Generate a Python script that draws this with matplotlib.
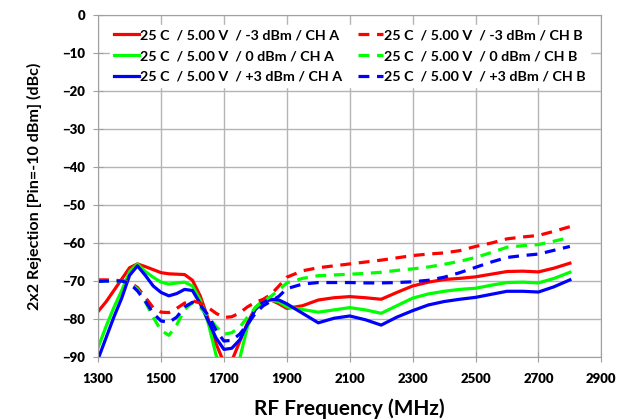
import matplotlib
matplotlib.use('Agg')
import matplotlib.pyplot as plt

plt.rcParams['font.family'] = ['Lato', 'DejaVu Sans']
plt.rcParams['font.weight'] = 'bold'

# frequency points (MHz)
freq = [1300, 1325, 1350, 1375, 1400, 1425, 1450, 1475, 1500, 1525, 1550, 1575,
        1600, 1625, 1650, 1675, 1700, 1725, 1750, 1775, 1800, 1825, 1850, 1875,
        1900, 1950, 2000, 2050, 2100, 2150, 2200, 2250, 2300, 2350, 2400, 2450,
        2500, 2550, 2600, 2650, 2700, 2750, 2800]

# CH A
m3_a = [-78.0, -75.5, -72.5, -69.5, -66.5, -65.5, -66.2, -67.0, -67.8, -68.1, -68.2, -68.3,
        -69.8, -74.0, -80.0, -86.5, -91.5, -91.0, -86.0, -81.0, -77.0, -75.3, -75.0, -76.0,
        -77.2, -76.5, -75.0, -74.4, -74.1, -74.4, -74.8, -73.0, -71.3, -70.3, -69.6, -69.3,
        -68.9, -68.2, -67.5, -67.4, -67.6, -66.6, -65.3]
p0_a = [-87.5, -82.0, -77.0, -72.5, -67.5, -65.5, -67.5, -69.0, -70.3, -70.8, -70.5, -70.3,
        -71.3, -75.0, -81.0, -89.5, -94.0, -94.0, -90.5, -82.0, -77.0, -75.0, -75.0, -75.5,
        -76.8, -77.5, -78.2, -77.6, -77.0, -77.6, -78.5, -76.5, -74.5, -73.4, -72.7, -72.2,
        -71.9, -71.1, -70.4, -70.3, -70.5, -69.3, -67.7]
p3_a = [-90.5, -85.0, -79.5, -74.5, -68.5, -66.0, -68.5, -71.3, -73.0, -73.9, -73.3, -72.2,
        -72.5, -76.0, -80.5, -85.0, -88.0, -87.7, -85.5, -81.4, -77.5, -75.5, -74.8, -75.0,
        -76.0, -78.5, -81.0, -79.8, -79.2, -80.2, -81.6, -79.5, -77.8, -76.3, -75.4, -74.8,
        -74.3, -73.5, -72.7, -72.7, -72.9, -71.5, -69.7]

# CH B
m3_b = [-69.7, -69.7, -69.8, -69.9, -70.3, -71.7, -74.3, -77.0, -78.2, -78.3, -77.2, -75.8,
        -75.2, -75.8, -77.0, -78.5, -79.6, -79.4, -78.4, -76.8, -75.6, -74.8, -73.5, -71.3,
        -69.0, -67.3, -66.5, -66.0, -65.5, -65.0, -64.5, -63.9, -63.3, -62.9, -62.6, -62.0,
        -60.9, -60.0, -58.9, -58.4, -58.0, -56.9, -55.7]
p0_b = [-70.1, -70.0, -70.0, -70.0, -70.5, -72.1, -75.5, -79.5, -83.0, -84.3, -81.5, -77.5,
        -75.7, -77.0, -79.3, -82.0, -84.0, -83.6, -82.2, -79.5, -77.0, -75.3, -74.0, -72.3,
        -70.5, -69.3, -68.6, -68.4, -68.2, -68.0, -67.7, -67.2, -66.8, -66.3, -65.6, -64.8,
        -63.8, -62.5, -61.1, -60.7, -60.4, -59.5, -58.5]
p3_b = [-70.1, -70.0, -70.0, -70.0, -70.6, -72.6, -75.3, -78.5, -80.5, -80.9, -79.5, -76.8,
        -75.6, -76.4, -79.0, -83.0, -85.8, -85.6, -84.0, -81.4, -78.5, -76.5, -75.3, -74.0,
        -72.0, -70.8, -70.4, -70.4, -70.4, -70.5, -70.5, -70.4, -70.2, -69.8, -69.0, -67.8,
        -66.4, -65.0, -63.8, -63.3, -62.9, -61.9, -60.9]

fig = plt.figure(figsize=(6.29, 4.2), dpi=100)
ax = fig.add_axes([0.156, 0.15, 0.80, 0.814])

lw = 2.3
dash = (0, (3.4, 2.4))
ax.plot(freq, m3_a, color='#ff0000', lw=lw, label='25 C  / 5.00 V  / -3 dBm / CH A')
ax.plot(freq, p0_a, color='#00ff00', lw=lw, label='25 C  / 5.00 V  / 0 dBm / CH A')
ax.plot(freq, p3_a, color='#0000ff', lw=lw, label='25 C  / 5.00 V  / +3 dBm / CH A')
ax.plot(freq, m3_b, color='#ff0000', lw=lw, ls=dash, label='25 C  / 5.00 V  / -3 dBm / CH B')
ax.plot(freq, p0_b, color='#00ff00', lw=lw, ls=dash, label='25 C  / 5.00 V  / 0 dBm / CH B')
ax.plot(freq, p3_b, color='#0000ff', lw=lw, ls=dash, label='25 C  / 5.00 V  / +3 dBm / CH B')

ax.set_xlim(1300, 2900)
ax.set_ylim(-90, 0)
ax.set_xticks(range(1300, 2901, 200))
ax.set_yticks(range(-90, 1, 10))
ax.grid(True, color='#b4b4b4', lw=1.0)
ax.set_axisbelow(True)
for s in ax.spines.values():
    s.set_color('#a0a0a0')
ax.tick_params(colors='black', labelsize=9.5, length=7, color='#a0a0a0', direction='inout')
ax.tick_params(axis='x', pad=8)
ax.tick_params(axis='y', pad=6)
for t in ax.get_xticklabels() + ax.get_yticklabels():
    t.set_fontweight('heavy')

ax.set_xlabel('RF Frequency (MHz)', fontsize=15, fontweight='bold', labelpad=10)
ax.set_ylabel('2x2 Rejection [Pin=-10 dBm] (dBc)', fontsize=11.6, fontweight='bold', labelpad=14)

leg = ax.legend(loc='upper center', ncol=2, fontsize=10.3, frameon=True, facecolor='white',
                edgecolor='white', framealpha=1, handlelength=1.75, handletextpad=0.05,
                columnspacing=1.1, labelspacing=0.6, borderaxespad=0.7, borderpad=0.3)
for t in leg.get_texts():
    t.set_fontweight('bold')

fig.savefig('out.png', dpi=100)
